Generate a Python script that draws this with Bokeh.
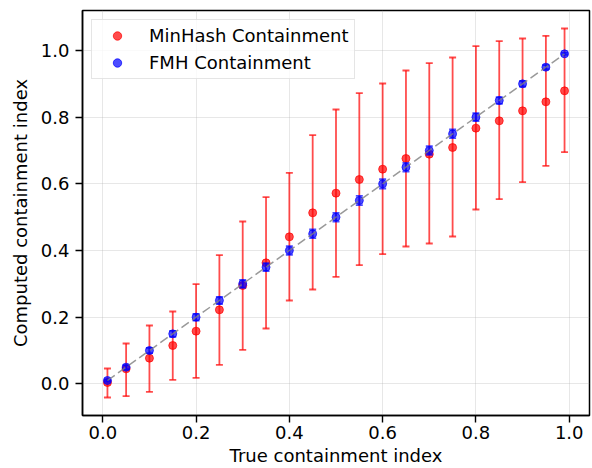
from bokeh.plotting import figure
from bokeh.models import Range1d, FixedTicker, Legend, LegendItem
from bokeh.embed import file_html
from bokeh.resources import INLINE

# ---- data ----
true_x = [0.01, 0.05, 0.10, 0.15, 0.20, 0.25, 0.30, 0.35, 0.40, 0.45, 0.50,
          0.55, 0.60, 0.65, 0.70, 0.75, 0.80, 0.85, 0.90, 0.95, 0.99]
minhash_mean = [0.004, 0.045, 0.077, 0.115, 0.158, 0.222, 0.295, 0.363, 0.441, 0.513, 0.572,
                0.613, 0.644, 0.676, 0.689, 0.709, 0.767, 0.789, 0.819, 0.846, 0.879]
minhash_low = [-0.041, -0.037, -0.024, 0.012, 0.018, 0.057, 0.102, 0.166, 0.250, 0.283, 0.321,
               0.356, 0.389, 0.412, 0.421, 0.442, 0.523, 0.554, 0.605, 0.654, 0.695]
minhash_high = [0.046, 0.121, 0.175, 0.217, 0.299, 0.386, 0.487, 0.560, 0.633, 0.746, 0.823,
                0.872, 0.901, 0.940, 0.962, 0.979, 1.013, 1.028, 1.036, 1.044, 1.066]
fmh_mean = [0.010, 0.050, 0.100, 0.150, 0.200, 0.250, 0.300, 0.350, 0.400, 0.450, 0.500,
            0.550, 0.600, 0.650, 0.700, 0.750, 0.800, 0.850, 0.900, 0.950, 0.990]
fmh_err = [0.003, 0.006, 0.008, 0.009, 0.010, 0.011, 0.012, 0.012, 0.013, 0.013, 0.013,
           0.014, 0.014, 0.013, 0.013, 0.013, 0.012, 0.010, 0.008, 0.006, 0.003]

x_ticks = [0.0, 0.2, 0.4, 0.6, 0.8, 1.0]
x_tick_labels = ["0.0", "0.2", "0.4", "0.6", "0.8", "1.0"]
y_ticks = [0.0, 0.2, 0.4, 0.6, 0.8, 1.0]
y_tick_labels = ["0.0", "0.2", "0.4", "0.6", "0.8", "1.0"]

series_labels = ["MinHash Containment", "FMH Containment"]
x_label = "True containment index"
y_label = "Computed containment index"

fmh_low = [m - e for m, e in zip(fmh_mean, fmh_err)]
fmh_high = [m + e for m, e in zip(fmh_mean, fmh_err)]

FONT = "DejaVu Sans"
FS = "18px"

p = figure(width=592, height=468, output_backend="svg", toolbar_location=None,
           x_range=Range1d(-0.0435, 1.0435), y_range=Range1d(-0.095, 1.12),
           min_border_left=82, min_border_right=3, min_border_top=10, min_border_bottom=50)

p.background_fill_color = "white"
p.border_fill_color = "white"
p.outline_line_color = "black"
p.outline_line_width = 1.5

for ax, ticks, labels, lab in ((p.xaxis[0], x_ticks, x_tick_labels, x_label),
                               (p.yaxis[0], y_ticks, y_tick_labels, y_label)):
    ax.ticker = FixedTicker(ticks=ticks)
    ax.major_label_overrides = {t: l for t, l in zip(ticks, labels)}
    ax.axis_label = lab
    ax.axis_label_text_font = FONT
    ax.axis_label_text_font_size = FS
    ax.axis_label_text_font_style = "normal"
    ax.axis_label_text_color = "black"
    ax.major_label_text_font = FONT
    ax.major_label_text_font_size = FS
    ax.major_label_text_color = "black"
    ax.axis_line_color = "black"
    ax.axis_line_width = 1.5
    ax.major_tick_line_color = "black"
    ax.major_tick_line_width = 1.4
    ax.major_tick_in = 0
    ax.major_tick_out = 7
    ax.minor_tick_line_color = None

p.xaxis[0].major_label_standoff = 3
p.xaxis[0].axis_label_standoff = 3
p.yaxis[0].major_label_standoff = 6
p.yaxis[0].axis_label_standoff = 7

p.xgrid.ticker = FixedTicker(ticks=x_ticks)
p.ygrid.ticker = FixedTicker(ticks=y_ticks)
for g in (p.xgrid[0], p.ygrid[0]):
    g.grid_line_color = "#b0b0b0"
    g.grid_line_alpha = 0.3
    g.grid_line_width = 1

RED = "#ff0000"
BLUE = "#0000ff"

# MinHash error bars
p.segment(true_x, minhash_low, true_x, minhash_high, line_color=RED, line_alpha=0.7, line_width=1.8)
p.scatter(true_x, minhash_low, marker="dash", size=7, line_color=RED, line_alpha=0.7, line_width=1.8)
p.scatter(true_x, minhash_high, marker="dash", size=7, line_color=RED, line_alpha=0.7, line_width=1.8)
r_mh = p.scatter(true_x, minhash_mean, marker="circle", size=8, fill_color=RED, fill_alpha=0.7,
                 line_color=RED, line_alpha=0.7, line_width=1)

# FMH error bars
p.segment(true_x, fmh_low, true_x, fmh_high, line_color=BLUE, line_alpha=0.7, line_width=1.8)
p.scatter(true_x, fmh_low, marker="dash", size=7, line_color=BLUE, line_alpha=0.7, line_width=1.8)
p.scatter(true_x, fmh_high, marker="dash", size=7, line_color=BLUE, line_alpha=0.7, line_width=1.8)
r_fmh = p.scatter(true_x, fmh_mean, marker="circle", size=8, fill_color=BLUE, fill_alpha=0.7,
                  line_color=BLUE, line_alpha=0.7, line_width=1)

# diagonal reference line
p.line(true_x, true_x, line_color="#808080", line_alpha=0.8, line_width=1.5, line_dash="9 4")

legend = Legend(items=[LegendItem(label=series_labels[0], renderers=[r_mh]),
                       LegendItem(label=series_labels[1], renderers=[r_fmh])],
                location="top_left", margin=9, padding=5, spacing=6,
                glyph_width=40, glyph_height=21, label_height=21, label_standoff=12,
                label_text_font=FONT, label_text_font_size=FS, label_text_color="black",
                border_line_color="#cccccc", border_line_width=1,
                background_fill_color="white", background_fill_alpha=0.8)
p.add_layout(legend)

open("out.html", "w").write(file_html(p, INLINE))
